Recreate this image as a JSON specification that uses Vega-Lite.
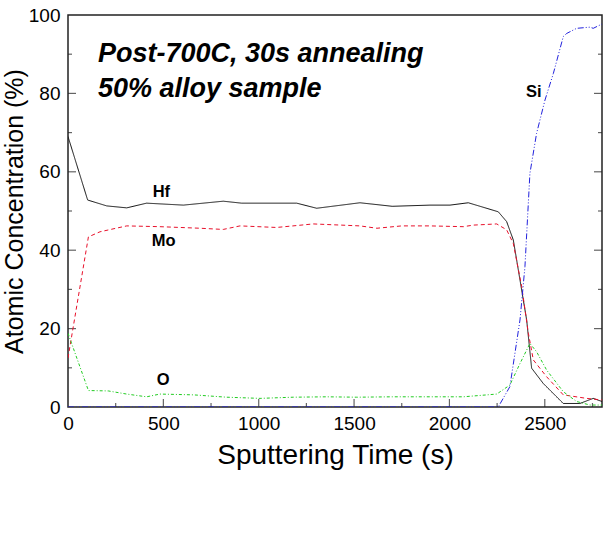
{
  "$schema": "https://vega.github.io/schema/vega-lite/v6.json",
  "width": 534,
  "height": 392,
  "autosize": {"type": "none"},
  "padding": {"left": 68, "top": 15, "right": 1, "bottom": 150},
  "background": "white",
  "config": {
    "font": "Liberation Sans",
    "view": {"stroke": "#222", "strokeWidth": 1.5},
    "axis": {"labelColor": "black", "titleColor": "black", "labelFont": "Liberation Sans", "titleFont": "Liberation Sans", "titleFontWeight": "normal", "domain": false, "grid": false, "ticks": false}
  },
  "datasets": {
    "profiles": [
      {"t": 0, "c": 69, "el": "Hf"},
      {"t": 103, "c": 52.8, "el": "Hf"},
      {"t": 203, "c": 51.3, "el": "Hf"},
      {"t": 308, "c": 50.8, "el": "Hf"},
      {"t": 412, "c": 52.0, "el": "Hf"},
      {"t": 605, "c": 51.5, "el": "Hf"},
      {"t": 814, "c": 52.5, "el": "Hf"},
      {"t": 910, "c": 52.0, "el": "Hf"},
      {"t": 1199, "c": 52.0, "el": "Hf"},
      {"t": 1304, "c": 50.7, "el": "Hf"},
      {"t": 1531, "c": 52.1, "el": "Hf"},
      {"t": 1700, "c": 51.2, "el": "Hf"},
      {"t": 1898, "c": 51.5, "el": "Hf"},
      {"t": 2003, "c": 51.5, "el": "Hf"},
      {"t": 2099, "c": 52.1, "el": "Hf"},
      {"t": 2256, "c": 49.8, "el": "Hf"},
      {"t": 2300, "c": 47.3, "el": "Hf"},
      {"t": 2335, "c": 42.6, "el": "Hf"},
      {"t": 2370, "c": 32.4, "el": "Hf"},
      {"t": 2405, "c": 22.2, "el": "Hf"},
      {"t": 2431, "c": 9.9, "el": "Hf"},
      {"t": 2492, "c": 6.0, "el": "Hf"},
      {"t": 2597, "c": 0.9, "el": "Hf"},
      {"t": 2684, "c": 0.9, "el": "Hf"},
      {"t": 2754, "c": 2.2, "el": "Hf"},
      {"t": 2800, "c": 1.4, "el": "Hf"},
      {"t": 0, "c": 12.5, "el": "Mo"},
      {"t": 107, "c": 43.4, "el": "Mo"},
      {"t": 168, "c": 44.7, "el": "Mo"},
      {"t": 308, "c": 46.2, "el": "Mo"},
      {"t": 482, "c": 46.0, "el": "Mo"},
      {"t": 692, "c": 45.6, "el": "Mo"},
      {"t": 814, "c": 45.3, "el": "Mo"},
      {"t": 902, "c": 46.2, "el": "Mo"},
      {"t": 1094, "c": 45.8, "el": "Mo"},
      {"t": 1286, "c": 46.7, "el": "Mo"},
      {"t": 1531, "c": 46.2, "el": "Mo"},
      {"t": 1620, "c": 45.6, "el": "Mo"},
      {"t": 1750, "c": 46.2, "el": "Mo"},
      {"t": 1898, "c": 46.2, "el": "Mo"},
      {"t": 2073, "c": 46.0, "el": "Mo"},
      {"t": 2125, "c": 46.4, "el": "Mo"},
      {"t": 2248, "c": 46.7, "el": "Mo"},
      {"t": 2300, "c": 45.2, "el": "Mo"},
      {"t": 2335, "c": 41.7, "el": "Mo"},
      {"t": 2379, "c": 30.7, "el": "Mo"},
      {"t": 2414, "c": 18.8, "el": "Mo"},
      {"t": 2440, "c": 12.0, "el": "Mo"},
      {"t": 2510, "c": 7.7, "el": "Mo"},
      {"t": 2597, "c": 3.1, "el": "Mo"},
      {"t": 2719, "c": 2.2, "el": "Mo"},
      {"t": 2800, "c": 1.8, "el": "Mo"},
      {"t": 0, "c": 18.8, "el": "O"},
      {"t": 107, "c": 4.2, "el": "O"},
      {"t": 211, "c": 4.1, "el": "O"},
      {"t": 308, "c": 3.3, "el": "O"},
      {"t": 412, "c": 2.6, "el": "O"},
      {"t": 482, "c": 3.3, "el": "O"},
      {"t": 657, "c": 3.1, "el": "O"},
      {"t": 832, "c": 2.5, "el": "O"},
      {"t": 1007, "c": 2.2, "el": "O"},
      {"t": 1181, "c": 2.5, "el": "O"},
      {"t": 1356, "c": 2.6, "el": "O"},
      {"t": 1514, "c": 2.5, "el": "O"},
      {"t": 1700, "c": 2.6, "el": "O"},
      {"t": 1898, "c": 2.6, "el": "O"},
      {"t": 2073, "c": 2.6, "el": "O"},
      {"t": 2248, "c": 3.3, "el": "O"},
      {"t": 2317, "c": 5.6, "el": "O"},
      {"t": 2370, "c": 11.1, "el": "O"},
      {"t": 2422, "c": 16.2, "el": "O"},
      {"t": 2457, "c": 14.1, "el": "O"},
      {"t": 2510, "c": 9.4, "el": "O"},
      {"t": 2597, "c": 3.9, "el": "O"},
      {"t": 2667, "c": 1.4, "el": "O"},
      {"t": 2737, "c": 0.5, "el": "O"},
      {"t": 2800, "c": 0.5, "el": "O"},
      {"t": 0, "c": 0, "el": "Si"},
      {"t": 2256, "c": 0, "el": "Si"},
      {"t": 2317, "c": 5.2, "el": "Si"},
      {"t": 2370, "c": 22.2, "el": "Si"},
      {"t": 2396, "c": 35.8, "el": "Si"},
      {"t": 2422, "c": 59.6, "el": "Si"},
      {"t": 2457, "c": 69.8, "el": "Si"},
      {"t": 2501, "c": 78.3, "el": "Si"},
      {"t": 2545, "c": 85.1, "el": "Si"},
      {"t": 2597, "c": 94.5, "el": "Si"},
      {"t": 2615, "c": 95.3, "el": "Si"},
      {"t": 2667, "c": 96.6, "el": "Si"},
      {"t": 2737, "c": 96.9, "el": "Si"},
      {"t": 2754, "c": 96.6, "el": "Si"},
      {"t": 2800, "c": 97.7, "el": "Si"}
    ],
    "titles": [
      {"t": 157, "c": 88.0, "txt": "Post-700C, 30s annealing"},
      {"t": 157, "c": 79.1, "txt": "50% alloy sample"}
    ],
    "labels": [
      {"t": 444, "c": 53.6, "txt": "Hf"},
      {"t": 439, "c": 41.1, "txt": "Mo"},
      {"t": 465, "c": 5.6, "txt": "O"},
      {"t": 2401, "c": 79.0, "txt": "Si"}
    ],
    "xticks": [
      {"v": 250, "kind": "minor"}, {"v": 500, "kind": "major"}, {"v": 750, "kind": "minor"},
      {"v": 1000, "kind": "major"}, {"v": 1250, "kind": "minor"}, {"v": 1500, "kind": "major"},
      {"v": 1750, "kind": "minor"}, {"v": 2000, "kind": "major"}, {"v": 2250, "kind": "minor"},
      {"v": 2500, "kind": "major"}, {"v": 2750, "kind": "minor"}
    ],
    "yticks": [
      {"v": 10, "kind": "minor"}, {"v": 20, "kind": "major"}, {"v": 30, "kind": "minor"},
      {"v": 40, "kind": "major"}, {"v": 50, "kind": "minor"}, {"v": 60, "kind": "major"},
      {"v": 70, "kind": "minor"}, {"v": 80, "kind": "major"}, {"v": 90, "kind": "minor"}
    ]
  },
  "layer": [
    {
      "data": {"name": "xticks"},
      "mark": {"type": "tick", "orient": "vertical", "thickness": 1.2, "color": "#222222", "clip": true},
      "encoding": {
        "x": {"field": "v", "type": "quantitative", "scale": {"domain": [0, 2800], "nice": false, "zero": false}},
        "y": {"datum": 0, "type": "quantitative", "scale": {"domain": [0, 100], "nice": false}},
        "size": {"field": "kind", "type": "nominal", "scale": {"domain": ["major", "minor"], "range": [16, 8]}, "legend": null}
      }
    },
    {
      "data": {"name": "yticks"},
      "mark": {"type": "tick", "orient": "horizontal", "thickness": 1.2, "color": "#222222", "clip": true},
      "encoding": {
        "x": {"datum": 0, "type": "quantitative"},
        "y": {"field": "v", "type": "quantitative"},
        "size": {"field": "kind", "type": "nominal", "scale": {"domain": ["major", "minor"], "range": [16, 8]}, "legend": null}
      }
    },
    {
      "data": {"name": "yticks"},
      "mark": {"type": "tick", "orient": "horizontal", "thickness": 1.2, "color": "#222222", "clip": true},
      "encoding": {
        "x": {"datum": 2800, "type": "quantitative"},
        "y": {"field": "v", "type": "quantitative"},
        "size": {"field": "kind", "type": "nominal", "scale": {"domain": ["major", "minor"], "range": [16, 8]}, "legend": null}
      }
    },
    {
      "data": {"name": "profiles"},
      "mark": {"type": "line", "strokeWidth": 1, "clip": true},
      "encoding": {
        "x": {
          "field": "t", "type": "quantitative",
          "axis": {
            "orient": "bottom",
            "values": [0, 500, 1000, 1500, 2000, 2500],
            "format": "d",
            "labelPadding": 7.5,
            "labelFontSize": 19,
            "labelFlush": false,
            "labelOverlap": false,
            "title": "Sputtering Time (s)",
            "titleFontSize": 28,
            "titlePadding": 8
          }
        },
        "y": {
          "field": "c", "type": "quantitative",
          "axis": {
            "orient": "left",
            "values": [0, 20, 40, 60, 80, 100],
            "format": "d",
            "labelPadding": 8,
            "labelFontSize": 19,
            "labelFlush": false,
            "labelOverlap": false,
            "title": "Atomic Concentration (%)",
            "titleFontSize": 25,
            "titlePadding": 1
          }
        },
        "color": {
          "field": "el", "type": "nominal",
          "scale": {"domain": ["Hf", "Mo", "O", "Si"], "range": ["#111111", "#e8102a", "#22cc22", "#2222dd"]},
          "legend": null
        },
        "strokeDash": {
          "field": "el", "type": "nominal",
          "scale": {"domain": ["Hf", "Mo", "O", "Si"], "range": [[1, 0], [4, 3], [3, 2, 1, 2], [6, 2, 1, 2, 1, 2]]},
          "legend": null
        }
      }
    },
    {
      "data": {"name": "titles"},
      "mark": {"type": "text", "align": "left", "baseline": "alphabetic", "color": "black", "fontWeight": "bold", "fontStyle": "italic", "fontSize": 27},
      "encoding": {
        "x": {"field": "t", "type": "quantitative"},
        "y": {"field": "c", "type": "quantitative"},
        "text": {"field": "txt", "type": "nominal"}
      }
    },
    {
      "data": {"name": "labels"},
      "mark": {"type": "text", "align": "left", "baseline": "alphabetic", "color": "black", "fontWeight": "bold", "fontSize": 16.5},
      "encoding": {
        "x": {"field": "t", "type": "quantitative"},
        "y": {"field": "c", "type": "quantitative"},
        "text": {"field": "txt", "type": "nominal"}
      }
    }
  ]
}
